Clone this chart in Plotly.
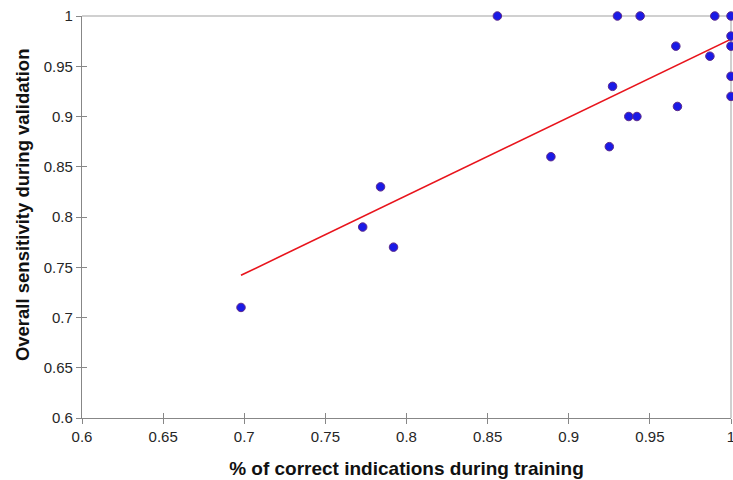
import plotly.graph_objects as go

# Data
train_pct = [0.698, 0.773, 0.784, 0.792, 0.856, 0.889, 0.925, 0.927, 0.937, 0.942,
             0.930, 0.944, 0.966, 0.967, 0.987, 0.990, 1.0, 1.0, 1.0, 1.0, 1.0]
valid_sens = [0.71, 0.79, 0.83, 0.77, 1.00, 0.86, 0.87, 0.93, 0.90, 0.90,
              1.00, 1.00, 0.97, 0.91, 0.96, 1.00, 1.00, 0.98, 0.97, 0.94, 0.92]
trend_x = [0.698, 1.0]
trend_y = [0.742, 0.977]
x_ticks = [0.6, 0.65, 0.7, 0.75, 0.8, 0.85, 0.9, 0.95, 1.0]
x_tick_labels = ["0.6", "0.65", "0.7", "0.75", "0.8", "0.85", "0.9", "0.95", "1"]
y_ticks = [0.6, 0.65, 0.7, 0.75, 0.8, 0.85, 0.9, 0.95, 1.0]
y_tick_labels = ["0.6", "0.65", "0.7", "0.75", "0.8", "0.85", "0.9", "0.95", "1"]
x_title = "% of correct indications during training"
y_title = "Overall sensitivity during validation"

tick_font = dict(family="Liberation Sans Narrow, Liberation Sans, Arial", size=15, color="#262626")
axis_grey = "#878787"

fig = go.Figure()
fig.add_trace(go.Scatter(
    x=trend_x, y=trend_y, mode="lines",
    line=dict(color="#e8141c", width=1.6), showlegend=False, hoverinfo="skip", cliponaxis=False))
fig.add_trace(go.Scatter(
    x=train_pct, y=valid_sens, mode="markers",
    marker=dict(size=8.5, color="#1a1ae6", line=dict(color="#5c2a8c", width=1)),
    showlegend=False, cliponaxis=False))

fig.update_layout(
    width=733, height=480,
    margin=dict(l=82, r=2, t=16, b=62, autoexpand=False),
    paper_bgcolor="white", plot_bgcolor="white",
    xaxis=dict(
        range=[0.6, 1.0], tickvals=x_ticks, ticktext=x_tick_labels, automargin=False,
        showgrid=False, zeroline=False, showline=True, linecolor=axis_grey, linewidth=1.3,
        ticks="outside", ticklen=5, tickcolor=axis_grey, tickwidth=1.3,
        tickfont=tick_font, ticklabeloverflow="allow",
        title=dict(text="<b>" + x_title + "</b>",
                   font=dict(family="Liberation Sans Narrow, Liberation Sans, Arial", size=19, color="#111111"),
                   standoff=17),
    ),
    yaxis=dict(
        range=[0.6, 1.0], tickvals=y_ticks, ticktext=y_tick_labels, automargin=False,
        showgrid=False, zeroline=False, showline=True, linecolor=axis_grey, linewidth=1.3,
        ticks="outside", ticklen=5, tickcolor=axis_grey, tickwidth=1.3,
        tickfont=tick_font, ticklabeloverflow="allow",
    ),
    xaxis2=dict(overlaying="x", matches="x", side="bottom", range=[0.6, 1.0], automargin=False,
                tickvals=x_ticks, showticklabels=False, ticks="inside", ticklen=5,
                tickcolor=axis_grey, tickwidth=1.3, showgrid=False, zeroline=False, showline=False),
    yaxis2=dict(overlaying="y", matches="y", side="left", range=[0.6, 1.0], automargin=False,
                tickvals=y_ticks, showticklabels=False, ticks="inside", ticklen=5,
                tickcolor=axis_grey, tickwidth=1.3, showgrid=False, zeroline=False, showline=False),
    shapes=[
        dict(type="line", xref="paper", yref="paper", x0=0, x1=1, y0=1, y1=1,
             line=dict(color="#c0c0c0", width=1.5), layer="below"),
        dict(type="line", xref="paper", yref="paper", x0=1, x1=1, y0=0, y1=1,
             line=dict(color="#c0c0c0", width=1.5), layer="below"),
    ],
    annotations=[
        dict(text="<b>" + y_title + "</b>", textangle=-90, showarrow=False,
             xref="paper", yref="paper", x=-0.0925, y=0.532,
             xanchor="center", yanchor="middle",
             font=dict(family="Liberation Sans, Arial", size=18.5, color="#111111")),
    ],
)
# invisible trace to activate the inner-tick overlay axes
fig.add_trace(go.Scatter(x=[None], y=[None], xaxis="x2", yaxis="y2", showlegend=False, hoverinfo="skip"))

fig.write_html("out.html", config={"displayModeBar": False},
               post_script="document.body.style.margin='0';document.body.style.padding='0';document.body.style.overflow='hidden';")
